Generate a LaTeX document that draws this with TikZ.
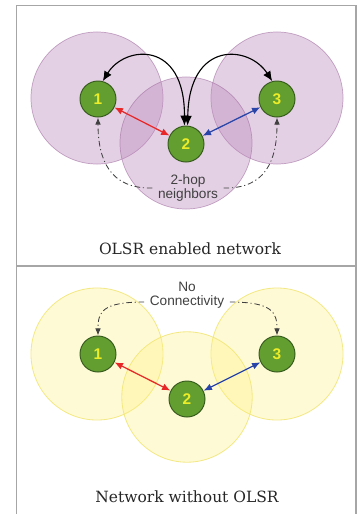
\documentclass[tikz,border=0pt]{standalone}
\usepackage{fontspec}
\setmainfont{DejaVu Serif}
\setsansfont{Liberation Sans}
\usetikzlibrary{arrows.meta}
\definecolor{hostfill}{RGB}{98,158,48}
\definecolor{hostline}{RGB}{55,92,30}
\definecolor{hosttext}{RGB}{236,236,40}
\definecolor{olsrfill}{RGB}{188,138,188}
\definecolor{olsrline}{RGB}{160,110,160}
\definecolor{plainfill}{RGB}{255,240,120}
\definecolor{plainline}{RGB}{240,228,110}
\definecolor{linkred}{RGB}{232,40,40}
\definecolor{linkblue}{RGB}{40,68,168}
\begin{document}
\begin{tikzpicture}[x=0.025cm,y=-0.025cm,
		host/.style={circle,draw=hostline,fill=hostfill,line width=0.7pt,
			minimum size=0.9cm,inner sep=0pt,text=hosttext,
			font=\sffamily\bfseries\fontsize{11}{13}\selectfont},
		olsrrange/.style={fill=olsrfill,fill opacity=0.4,draw=olsrline,draw opacity=0.6,line width=0.5pt},
		plainrange/.style={fill=plainfill,fill opacity=0.3,draw=plainline,draw opacity=0.8,line width=0.6pt},
		note/.style={font=\sffamily\fontsize{9.7}{10.5}\selectfont,text=black!75,align=center,inner sep=1pt,outer sep=3pt},
		caption/.style={font=\fontsize{11}{13}\selectfont,text=black!85},
		link/.style={{Latex[length=6pt,width=5pt]}-{Latex[length=6pt,width=5pt]},line width=0.9pt},
		hop2/.style={{Latex[length=7pt,width=6pt]}-{Latex[length=7pt,width=6pt]},line width=0.8pt},
		reach/.style={-{Latex[length=5pt,width=4pt]},line width=0.6pt,black!75,
			dash pattern=on 4pt off 2pt on 0.8pt off 2pt} ]
	\useasboundingbox (0,0) rectangle (358,514);
	\draw[black!35,line width=1.2pt] (16.5,514) -- (16.5,5.5) -- (356,5.5) -- (356,514);
	\draw[black!35,line width=1.2pt] (16.5,266) -- (356,266);

	\draw[olsrrange] (97,98) circle [radius=1.65cm];
	\draw[olsrrange] (277,98) circle [radius=1.65cm];
	\draw[olsrrange] (186,143) circle [radius=1.65cm];

	\node [host] (n1) at (98,99) {1};
	\node [host] (n2) at (186,144) {2};
	\node [host] (n3) at (277,99) {3};
	\node [note] (hop) at (188,188) {2-hop\\neighbors};
	\node [caption] (t1) at (190,249) {OLSR enabled network};

	\draw[hop2] (n1.75) .. controls (125,45) and (185,40) .. (n2.95);
	\draw[hop2] (n2.85) .. controls (189,40) and (249,45) .. (n3.105);
	\draw[link,linkred] (n1) -- (n2);
	\draw[link,linkblue] (n2) -- (n3);
	\draw[reach] (hop.west) .. controls (110,189) and (98,160) .. (n1.south);
	\draw[reach] (hop.east) .. controls (266,189) and (277,160) .. (n3.south);

	\draw[plainrange] (97,354) circle [radius=1.65cm];
	\draw[plainrange] (277,354) circle [radius=1.65cm];
	\draw[plainrange] (187,397) circle [radius=1.63cm];

	\node [host] (m1) at (98,354) {1};
	\node [host] (m2) at (187,399) {2};
	\node [host] (m3) at (277,354) {3};
	\node [note] (no) at (187,287) {No};
	\node [note] (conn) at (187,302) {Connectivity};
	\node [caption] (t2) at (187,497) {Network without OLSR};

	\draw[link,linkred] (m1) -- (m2);
	\draw[link,linkblue] (m2) -- (m3);
	\draw[reach] (conn.west) .. controls (102,302) and (98,312) .. (m1.north);
	\draw[reach] (conn.east) .. controls (272,302) and (277,312) .. (m3.north);
\end{tikzpicture}
\end{document}
